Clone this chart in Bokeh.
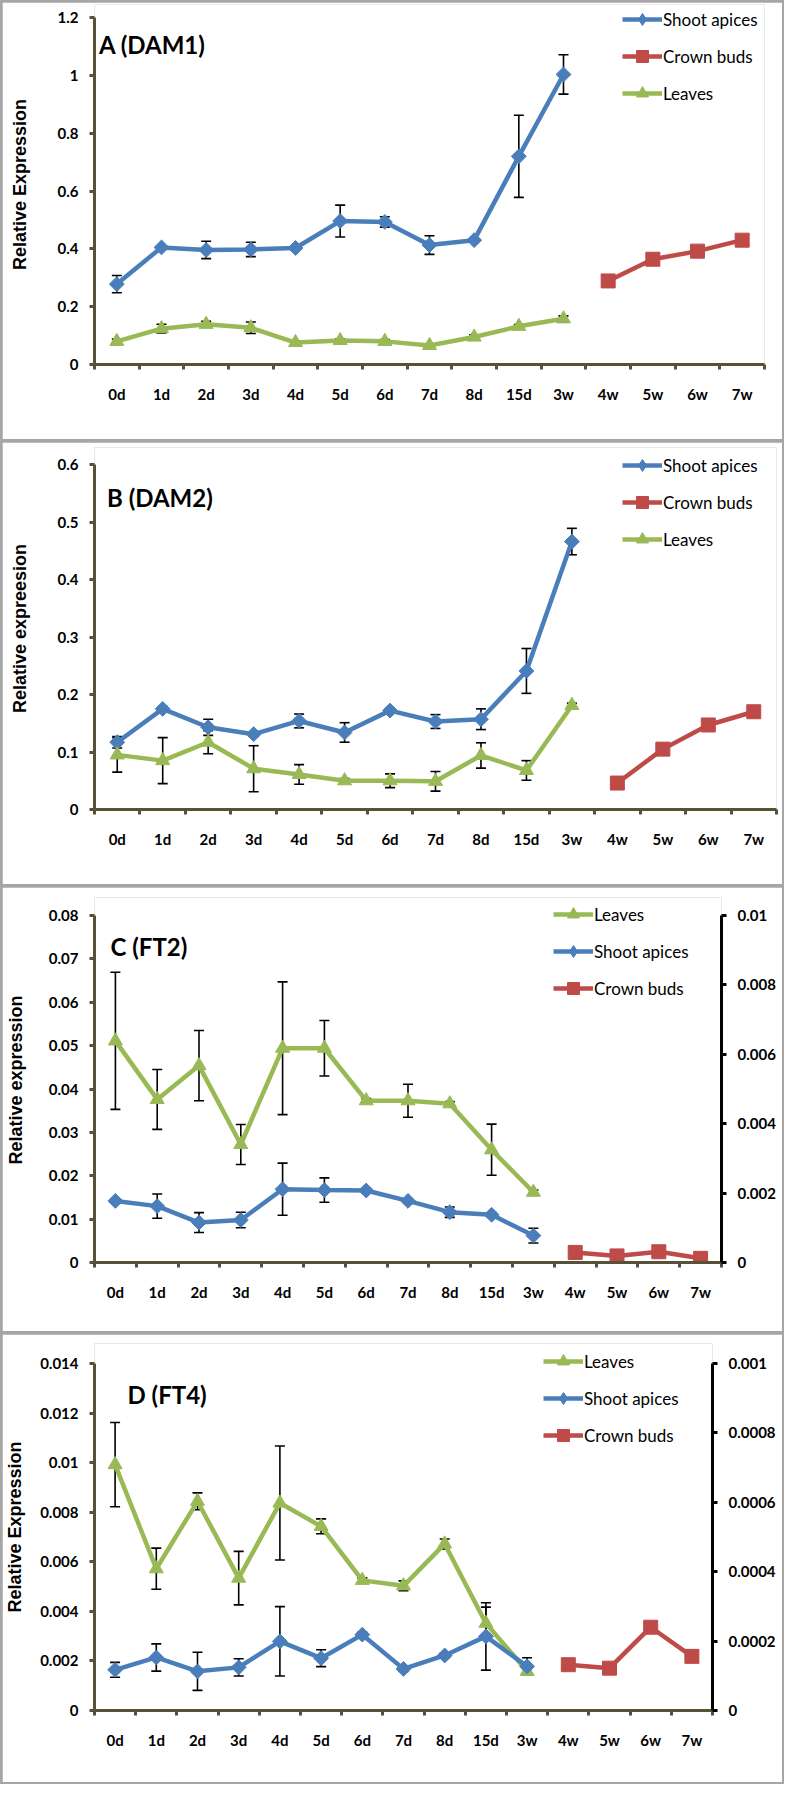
import math
from bokeh.plotting import figure
from bokeh.models import (Range1d, LinearAxis, FixedTicker, Whisker, TeeHead,
                          ColumnDataSource, Legend, LegendItem, Label)
from bokeh.layouts import column
from bokeh.embed import file_html
from bokeh.resources import INLINE

categories = ["0d", "1d", "2d", "3d", "4d", "5d", "6d", "7d", "8d", "15d", "3w", "4w", "5w", "6w", "7w"]
early = categories[:11]
late = categories[11:]

# ---- Panel A (DAM1)
a_shoot = [0.278, 0.405, 0.396, 0.398, 0.403, 0.496, 0.493, 0.413, 0.430, 0.720, 1.003]
a_shoot_err = [0.03, 0.005, 0.03, 0.025, 0.005, 0.055, 0.018, 0.032, 0.005, 0.142, 0.068]
a_crown = [0.289, 0.364, 0.392, 0.430]
a_leaves = [0.080, 0.124, 0.139, 0.127, 0.076, 0.083, 0.080, 0.066, 0.095, 0.132, 0.158]
a_leaves_err = [0.008, 0.015, 0.01, 0.02, 0.006, 0.006, 0.006, 0.006, 0.008, 0.006, 0.01]
a_yticks = [0, 0.2, 0.4, 0.6, 0.8, 1.0, 1.2]
a_ylabels = ["0", "0.2", "0.4", "0.6", "0.8", "1", "1.2"]

# ---- Panel B (DAM2)
b_shoot = [0.117, 0.175, 0.143, 0.131, 0.154, 0.134, 0.172, 0.153, 0.157, 0.241, 0.466]
b_shoot_err = [0.01, 0.004, 0.014, 0.004, 0.012, 0.017, 0.004, 0.012, 0.018, 0.039, 0.023]
b_crown = [0.046, 0.105, 0.147, 0.170]
b_leaves = [0.095, 0.085, 0.117, 0.071, 0.061, 0.050, 0.050, 0.049, 0.094, 0.068, 0.181]
b_leaves_err = [0.03, 0.04, 0.02, 0.04, 0.017, 0.004, 0.012, 0.017, 0.022, 0.017, 0.004]
b_yticks = [0, 0.1, 0.2, 0.3, 0.4, 0.5, 0.6]
b_ylabels = ["0", "0.1", "0.2", "0.3", "0.4", "0.5", "0.6"]

# ---- Panel C (FT2)
c_leaves = [0.0511, 0.0376, 0.0454, 0.0272, 0.0494, 0.0494, 0.0373, 0.0373, 0.0366, 0.026, 0.0162]
c_leaves_err = [0.0158, 0.0069, 0.0081, 0.0046, 0.0153, 0.0064, 0.0005, 0.0038, 0.0005, 0.0059, 0.0005]
c_shoot = [0.0142, 0.013, 0.0092, 0.0098, 0.0169, 0.0167, 0.0166, 0.0142, 0.0116, 0.011, 0.0062]
c_shoot_err = [0.0005, 0.0028, 0.0023, 0.0018, 0.006, 0.0028, 0.0005, 0.0005, 0.0012, 0.0005, 0.0017]
c_crown = [0.00029, 0.00019, 0.00031, 0.00012]
c_yticks = [0, 0.01, 0.02, 0.03, 0.04, 0.05, 0.06, 0.07, 0.08]
c_ylabels = ["0", "0.01", "0.02", "0.03", "0.04", "0.05", "0.06", "0.07", "0.08"]
c_rticks = [0, 0.002, 0.004, 0.006, 0.008, 0.01]
c_rlabels = ["0", "0.002", "0.004", "0.006", "0.008", "0.01"]

# ---- Panel D (FT4)
d_leaves = [0.00992, 0.00572, 0.00844, 0.00534, 0.00837, 0.00743, 0.00525, 0.00503, 0.00672, 0.00352, 0.00158]
d_leaves_err = [0.0017, 0.00083, 0.00034, 0.00108, 0.0023, 0.0003, 0.0001, 0.0002, 0.0002, 0.00065, 0.0001]
d_shoot = [0.00164, 0.00214, 0.00158, 0.00174, 0.00279, 0.00211, 0.00306, 0.00168, 0.00222, 0.00299, 0.00178]
d_shoot_err = [0.0003, 0.00055, 0.00077, 0.00035, 0.0014, 0.00034, 0.0001, 0.0001, 0.0001, 0.00136, 0.00035]
d_crown = [0.000132, 0.000122, 0.00024, 0.000156]
d_yticks = [0, 0.002, 0.004, 0.006, 0.008, 0.01, 0.012, 0.014]
d_ylabels = ["0", "0.002", "0.004", "0.006", "0.008", "0.01", "0.012", "0.014"]
d_rticks = [0, 0.0002, 0.0004, 0.0006, 0.0008, 0.001]
d_rlabels = ["0", "0.0002", "0.0004", "0.0006", "0.0008", "0.001"]

BLUE = "#4A7EBB"
RED = "#BE4B48"
GREEN = "#98B954"
OLIVE = "#575236"
FONT = "Lato"


def xs_of(cats):
    return [categories.index(c) + 0.5 for c in cats]


def style_y_axis(ax, ticks, labels, color):
    ax.ticker = FixedTicker(ticks=ticks, minor_ticks=[])
    ax.major_label_overrides = dict(zip(ticks, labels))
    ax.major_tick_out = 5
    ax.major_tick_in = 0
    ax.major_tick_line_width = 3
    ax.major_tick_line_color = color
    ax.minor_tick_line_color = None
    ax.axis_line_width = 3
    ax.axis_line_color = color
    ax.major_label_text_font = FONT
    ax.major_label_text_font_style = "bold"
    ax.major_label_text_font_size = "15px"
    ax.major_label_text_color = "black"
    ax.major_label_standoff = 11


def make_panel(fw, data_px, extra_px, borders, ymax, yticks, ylabels, ytitle, ylabel_standoff,
               title, title_xy, series, legend_xy, right=None):
    bt, bb, bl, br = borders
    scale_top = (data_px + extra_px) / data_px
    p = figure(frame_width=fw, frame_height=data_px + extra_px,
               output_backend="svg", toolbar_location=None,
               x_range=Range1d(0, len(categories)), y_range=Range1d(0, ymax * scale_top),
               min_border_top=bt, min_border_bottom=bb, min_border_left=bl, min_border_right=br)
    p.xgrid.visible = False
    p.ygrid.visible = False
    p.outline_line_color = None
    p.background_fill_color = "white"
    p.border_fill_color = "white"
    p.extra_x_ranges = {"legend_only": Range1d(-1000, -999)}

    xa = p.xaxis[0]
    xa.ticker = FixedTicker(ticks=[i + 0.5 for i in range(len(categories))],
                            minor_ticks=list(range(len(categories) + 1)))
    xa.major_label_overrides = {i + 0.5: c for i, c in enumerate(categories)}
    xa.major_tick_out = 0
    xa.major_tick_in = 0
    xa.major_tick_line_color = None
    xa.minor_tick_out = 5
    xa.minor_tick_in = 0
    xa.minor_tick_line_width = 3
    xa.minor_tick_line_color = OLIVE
    xa.axis_line_width = 3
    xa.axis_line_color = OLIVE
    xa.major_label_text_font = FONT
    xa.major_label_text_font_style = "bold"
    xa.major_label_text_font_size = "15px"
    xa.major_label_text_color = "black"
    xa.major_label_standoff = 15

    ya = p.yaxis[0]
    style_y_axis(ya, yticks, ylabels, OLIVE)
    ya.bounds = (0, ymax)
    ya.axis_label = ytitle
    ya.axis_label_text_font = "Liberation Sans"
    ya.axis_label_text_font_style = "bold"
    ya.axis_label_text_font_size = "18px"
    ya.axis_label_text_color = "black"
    ya.axis_label_standoff = ylabel_standoff

    if right is not None:
        rmax, rticks, rlabels = right
        p.extra_y_ranges = {"right": Range1d(0, rmax * scale_top)}
        ra = LinearAxis(y_range_name="right")
        style_y_axis(ra, rticks, rlabels, "black")
        ra.bounds = (0, rmax)
        p.add_layout(ra, "right")

    items = []
    for name, cats, vals, errs, color, marker, rname in series:
        xs = xs_of(cats)
        kw = {} if rname is None else {"y_range_name": rname}
        if errs is not None:
            src = ColumnDataSource(dict(x=xs, upper=[v + e for v, e in zip(vals, errs)],
                                        lower=[v - e for v, e in zip(vals, errs)]))
            w = Whisker(source=src, base="x", upper="upper", lower="lower", dimension="height",
                        line_color="black", line_width=1.6,
                        upper_head=TeeHead(size=10, line_color="black", line_width=1.6),
                        lower_head=TeeHead(size=10, line_color="black", line_width=1.6), **kw)
            p.add_layout(w)
        lr = p.line(xs, vals, line_width=4.5, line_color=color, **kw)
        if marker == "diamond":
            p.scatter(xs, vals, marker="square", angle=math.pi / 4, size=10.5,
                      fill_color=color, line_color=color, **kw)
            # legend swatch (legend ignores marker angle): drawn through an off-screen x range
            sr = p.scatter(xs, vals, marker="diamond", size=12, fill_color=color, line_color=color,
                           x_range_name="legend_only", **kw)
        elif marker == "square":
            sr = p.scatter(xs, vals, marker="square", size=14, fill_color=color, line_color=color, **kw)
        else:
            sr = p.scatter(xs, vals, marker="triangle", size=14, fill_color=color, line_color=color, **kw)
        items.append(LegendItem(label=name, renderers=[lr, sr]))

    legend = Legend(items=items, location=legend_xy, glyph_width=40, glyph_height=30,
                    label_standoff=1, spacing=7, padding=0, margin=0,
                    border_line_color=None, background_fill_alpha=0,
                    label_text_font=FONT, label_text_font_size="17px", label_text_color="black")
    p.add_layout(legend)

    p.add_layout(Label(x=title_xy[0], y=title_xy[1], x_units="screen", y_units="screen",
                       text=title, text_font=FONT, text_font_style="bold", text_font_size="24px",
                       text_color="black", text_baseline="middle", text_align="left"))
    return p


pA = make_panel(670, 347, 13, (2, 75, 89, 21), 1.2, a_yticks, a_ylabels, "Relative Expression", 25,
                "A (DAM1)", (4.5, 320),
                [("Shoot apices", early, a_shoot, a_shoot_err, BLUE, "diamond", None),
                 ("Crown buds", late, a_crown, None, RED, "square", None),
                 ("Leaves", early, a_leaves, a_leaves_err, GREEN, "triangle", None)],
                (528, 256))

pB = make_panel(682, 345, 17, (5, 75, 88, 10), 0.6, b_yticks, b_ylabels, "Relative expreesion", 25,
                "B (DAM2)", (12.5, 312),
                [("Shoot apices", early, b_shoot, b_shoot_err, BLUE, "diamond", None),
                 ("Crown buds", late, b_crown, None, RED, "square", None),
                 ("Leaves", early, b_leaves, b_leaves_err, GREEN, "triangle", None)],
                (528, 255))

pC = make_panel(627, 347, 18, (10, 69, 92, 61), 0.08, c_yticks, c_ylabels, "Relative expression", 20,
                "C (FT2)", (16, 316),
                [("Leaves", early, c_leaves, c_leaves_err, GREEN, "triangle", None),
                 ("Shoot apices", early, c_shoot, c_shoot_err, BLUE, "diamond", None),
                 ("Crown buds", late, c_crown, None, RED, "square", "right")],
                (459, 259), right=(0.01, c_rticks, c_rlabels))

pD = make_panel(618, 347, 20, (9, 72, 92, 70), 0.014, d_yticks, d_ylabels, "Relative Expression", 12,
                "D (FT4)", (33, 316),
                [("Leaves", early, d_leaves, d_leaves_err, GREEN, "triangle", None),
                 ("Shoot apices", early, d_shoot, d_shoot_err, BLUE, "diamond", None),
                 ("Crown buds", late, d_crown, None, RED, "square", "right")],
                (449, 260), right=(0.001, d_rticks, d_rlabels))

layout = column(pA, pB, pC, pD, spacing=3,
                styles={"background-color": "#a6a6a6", "padding": "2px"})

open("out.html", "w").write(file_html(layout, INLINE))
